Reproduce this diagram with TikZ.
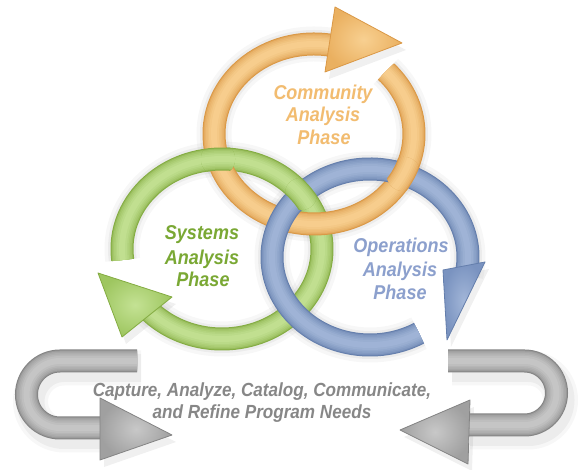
\documentclass[tikz,border=0pt]{standalone}
\usepackage{fontspec}
\newfontfamily\lblfont{Liberation Sans}[FakeStretch=0.9]

% tube colours: edge, middle, highlight
\definecolor{oE}{RGB}{218,152,70}
\definecolor{oM}{RGB}{234,176,96}
\definecolor{oL}{RGB}{248,208,145}
\definecolor{gE}{RGB}{132,172,66}
\definecolor{gM}{RGB}{158,198,96}
\definecolor{gL}{RGB}{196,226,148}
\definecolor{bE}{RGB}{100,126,172}
\definecolor{bM}{RGB}{122,147,192}
\definecolor{bL}{RGB}{162,182,216}
\definecolor{yE}{RGB}{132,132,132}
\definecolor{yM}{RGB}{160,160,160}
\definecolor{yL}{RGB}{200,200,200}
% label colours
\definecolor{oT}{RGB}{242,188,112}
\definecolor{gT}{RGB}{122,168,52}
\definecolor{bT}{RGB}{140,160,205}
\definecolor{yT}{RGB}{135,135,135}

% a shaded tube along a path: strokes from the dark rim to the light core
\newcommand\tubepath[4]{%
  \foreach \w/\p in {23/0,21/30,19/50,16/62,13/74,10/85,6/95}{%
    \draw[line width=\w pt,#3!\p!#1] #4;}%
}
% a shaded arrow head
\newcommand\headshape[4]{%
  \shade[inner color=#3,outer color=#2] #4 -- cycle;
  \draw[#1,line width=.8pt,line join=round] #4 -- cycle;
}

% shaft paths and head triangles
\newcommand\opath{([shift={(44:100pt and 90pt)}]oc) arc[start angle=44,end angle=-282,x radius=100pt,y radius=90pt]}
\newcommand\ohead{(335,463) -- (325,398) -- (402,427)}
\newcommand\gpath{([shift={(187:100pt and 90pt)}]gc) arc[start angle=187,end angle=-140,x radius=100pt,y radius=90pt]}
\newcommand\ghead{(98,197) -- (172,173) -- (122,133)}
\newcommand\bpath{([shift={(-60:98pt and 88pt)}]bc) arc[start angle=-60,end angle=-372,x radius=98pt,y radius=88pt]}
\newcommand\bhead{(443,200) -- (485,208) -- (447,130)}
\newcommand\lupath{(137,109) -- (60,109) arc[start angle=90,end angle=270,radius=33.5pt] -- (104,42)}
\newcommand\luhead{(100,72) -- (100,10) -- (172,35)}
\newcommand\rupath{(448,109) -- (524.5,109) arc[start angle=90,end angle=-90,radius=32pt] -- (466,45)}
\newcommand\ruhead{(470,70) -- (468,6) -- (400,40)}

\newcommand\orangeArrow{\tubepath{oE}{oM}{oL}{\opath}\headshape{oE}{oM}{oL}{\ohead}}
\newcommand\greenArrow{\tubepath{gE}{gM}{gL}{\gpath}\headshape{gE}{gM}{gL}{\ghead}}
\newcommand\blueArrow{\tubepath{bE}{bM}{bL}{\bpath}\headshape{bE}{bM}{bL}{\bhead}}
\newcommand\leftU{\tubepath{yE}{yM}{yL}{\lupath}\headshape{yE}{yM}{yL}{\luhead}}
\newcommand\rightU{\tubepath{yE}{yM}{yL}{\rupath}\headshape{yE}{yM}{yL}{\ruhead}}

% soft drop shadow of a path and its head
\newcommand\softshadow[2]{%
  \draw[line width=35pt,black,opacity=.03] #1;
  \draw[line width=28pt,black,opacity=.045] #1;
  \fill[black,opacity=.06] #2 -- cycle;
}

\tikzset{
  phase/.style={font=\lblfont\bfseries\itshape\fontsize{20}{24}\selectfont,anchor=base,inner sep=0pt},
  needs/.style={font=\lblfont\bfseries\itshape\fontsize{19}{23}\selectfont,anchor=base,inner sep=0pt,text=yT}
}

\begin{document}
\begin{tikzpicture}[x=1pt,y=1pt]
\useasboundingbox (0,0) rectangle (578,470);
\fill[white] (0,0) rectangle (578,470);

\coordinate (oc) at (314,336);
\coordinate (gc) at (222,221);
\coordinate (bc) at (370,213);

% shadows
\begin{scope}[shift={(4,-7)}]
  \softshadow{\gpath}{\ghead}
  \softshadow{\opath}{\ohead}
  \softshadow{\bpath}{\bhead}
  \softshadow{\lupath}{\luhead}
  \softshadow{\rupath}{\ruhead}
\end{scope}

% grey return arrows
\leftU
\rightU

% the three phase rings
\greenArrow
\orangeArrow
\blueArrow

% over/under at the crossings
\begin{scope}
  \clip (218,311) circle (17pt);
  \greenArrow
\end{scope}
\begin{scope}
  \clip (301,276) circle (16pt);
  \greenArrow
\end{scope}
\begin{scope}
  \clip (403.5,296) circle (17pt);
  \orangeArrow
\end{scope}

% labels
\node[phase,text=oT] (c1) at (323,370.5) {Community};
\node[phase,text=oT] (c2) at (323,348.5) {Analysis};
\node[phase,text=oT] (c3) at (324,325.5) {Phase};
\node[phase,text=gT] (s1) at (202,230.5) {Systems};
\node[phase,text=gT] (s2) at (202,205.5) {Analysis};
\node[phase,text=gT] (s3) at (203,183.5) {Phase};
\node[phase,text=bT] (p1) at (401,217.5) {Operations};
\node[phase,text=bT] (p2) at (400,193.5) {Analysis};
\node[phase,text=bT] (p3) at (400,170.5) {Phase};
\node[needs] (n1) at (262,73.4) {Capture, Analyze, Catalog, Communicate,};
\node[needs] (n2) at (262,51.4) {and Refine Program Needs};
\end{tikzpicture}
\end{document}
